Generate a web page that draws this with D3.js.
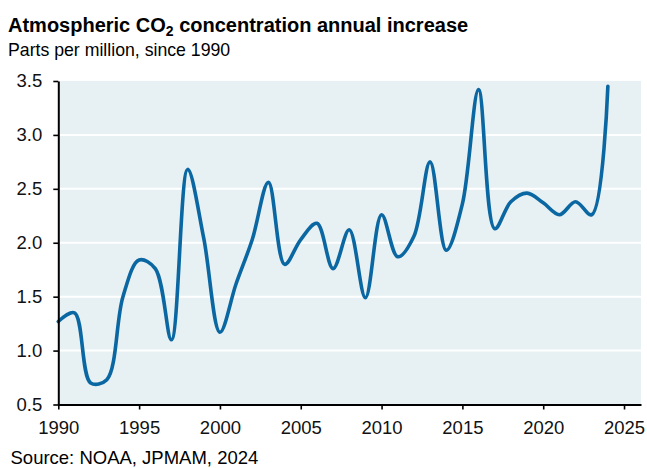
<!DOCTYPE html>
<html>
<head>
<meta charset="utf-8">
<script src="https://cdn.jsdelivr.net/npm/d3@7"></script>
<style>
  html, body { margin: 0; padding: 0; background: #fff; }
  svg { display: block; font-family: "Liberation Sans", Arial, sans-serif; }
</style>
</head>
<body>
<svg id="chart" width="647" height="468"></svg>
<script>
const years = [1990,1991,1992,1993,1994,1995,1996,1997,1998,1999,2000,2001,2002,2003,2004,2005,2006,2007,2008,2009,2010,2011,2012,2013,2014,2015,2016,2017,2018,2019,2020,2021,2022,2023,2024];
const increase = [1.27,1.35,0.70,0.73,1.50,1.84,1.76,1.10,2.68,2.04,1.17,1.62,2.03,2.56,1.80,2.03,2.18,1.76,2.12,1.49,2.26,1.87,2.06,2.75,1.93,2.36,3.42,2.13,2.38,2.46,2.37,2.26,2.38,2.26,3.45];
const yTicks = [0.5,1.0,1.5,2.0,2.5,3.0,3.5];
const xTicks = [1990,1995,2000,2005,2010,2015,2020,2025];
const titleMain = "Atmospheric CO";
const titleSub = "2";
const titleRest = " concentration annual increase";
const subtitle = "Parts per million, since 1990";
const source = "Source: NOAA, JPMAM, 2024";

const svg = d3.select("#chart");
const m = {left: 58.3, right: 641, top: 81, bottom: 404.5};

const x = d3.scaleLinear().domain([1990, 2026.05]).range([m.left, m.right]);
const y = d3.scaleLinear().domain([0.5, 3.5]).range([m.bottom, m.top]);

// plot background
svg.append("rect")
  .attr("x", m.left).attr("y", m.top)
  .attr("width", m.right - m.left).attr("height", m.bottom - m.top)
  .attr("fill", "#e7f0f3");

// gridlines
svg.append("g").selectAll("line")
  .data(yTicks.filter(d => d > 0.5 && d < 3.5))
  .join("line")
  .attr("x1", m.left).attr("x2", m.right)
  .attr("y1", d => y(d)).attr("y2", d => y(d))
  .attr("stroke", "#ffffff").attr("stroke-width", 2);

// line
const data = years.map((yr, i) => ({yr, v: increase[i]}));
svg.append("path")
  .datum(data)
  .attr("fill", "none")
  .attr("stroke", "#0a67a2")
  .attr("stroke-width", 3.6)
  .attr("stroke-linecap", "round")
  .attr("stroke-linejoin", "round")
  .attr("d", d3.line().x(d => x(d.yr)).y(d => y(d.v)).curve(d3.curveCatmullRom.alpha(0.5)));

// axes
const yAxis = d3.axisLeft(y).tickValues(yTicks).tickFormat(d3.format(".1f")).tickSize(5).tickPadding(11).tickSizeOuter(0);
const gy = svg.append("g").attr("transform", `translate(${m.left},0)`).call(yAxis);
const xAxis = d3.axisBottom(x).tickValues(xTicks).tickFormat(d3.format("d")).tickSize(5).tickPadding(11.5).tickSizeOuter(0);
const gx = svg.append("g").attr("transform", `translate(0,${m.bottom})`).call(xAxis);

[gy, gx].forEach(g => {
  g.select(".domain").attr("stroke", "#000").attr("stroke-width", 2);
  g.selectAll(".tick line").attr("stroke", "#000").attr("stroke-width", 1.6);
  g.selectAll(".tick text").attr("fill", "#111").attr("font-size", "18.5px").attr("font-family", "'Liberation Sans', Arial, sans-serif");
});

// title
const t = svg.append("text").attr("x", 8).attr("y", 32)
  .attr("font-size", "20px").attr("font-weight", "bold").attr("fill", "#000");
t.append("tspan").text(titleMain);
t.append("tspan").text(titleSub).attr("font-size", "14px").attr("dy", "4");
t.append("tspan").text(titleRest).attr("dy", "-4");

svg.append("text").attr("x", 8).attr("y", 56)
  .attr("font-size", "17.7px").attr("fill", "#000").text(subtitle);

svg.append("text").attr("x", 10.5).attr("y", 463.5)
  .attr("font-size", "18.5px").attr("fill", "#000").text(source);
</script>
</body>
</html>
